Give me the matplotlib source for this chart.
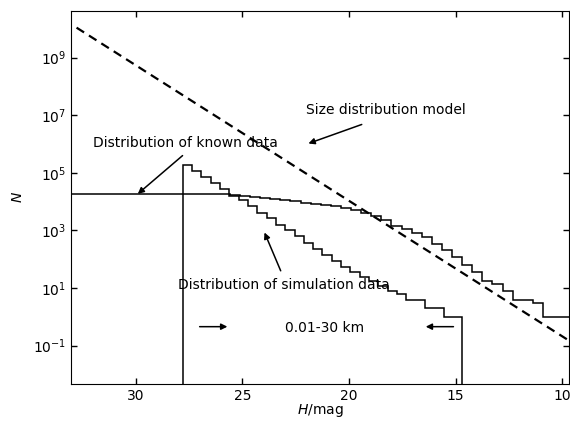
import numpy as np
import matplotlib
matplotlib.use("Agg")
import matplotlib.pyplot as plt

# ---- data ----
# known-data histogram (bins ordered from H high -> low, i.e. left to right)
known_H_left, known_H_right = 33.16, 9.484
known_counts = [18600]*15 + [18200, 17400, 16200, 15100, 13800, 12600, 11500, 10200, 9300, 8300,
                             7600, 6800, 6200, 5200, 4200, 3200, 2300, 1400, 1120, 830,
                             600, 350, 214, 117, 65, 35, 18, 14, 8, 4,
                             4, 3, 1, 1, 1]
# simulation histogram
sim_H_left, sim_H_right = 27.80, 14.68
sim_counts = [190000, 112000, 71000, 44000, 27500, 16200, 11000, 6800, 4200, 2700,
              1550, 1000, 650, 360, 225, 138, 87, 54, 37, 25,
              18, 12, 8, 6, 4, 4, 2, 2, 1, 1]
# size distribution model (power law line)
model_H = [32.77, 9.5]
model_N = [1.1e10, 0.123]

x_ticks = [30, 25, 20, 15, 10]
y_ticks = [1e-1, 1e1, 1e3, 1e5, 1e7, 1e9]

# ---- figure ----
fig = plt.figure(figsize=(5.70, 4.21), dpi=100)
ax = fig.add_axes([0.1246, 0.0879, 0.8745, 0.886])

known_edges = np.linspace(known_H_left, known_H_right, len(known_counts) + 1)
sim_edges = np.linspace(sim_H_left, sim_H_right, len(sim_counts) + 1)

ax.stairs(known_counts[::-1], known_edges[::-1], baseline=None, color='k', lw=1.1)
ax.stairs(sim_counts[::-1], sim_edges[::-1], baseline=1e-8, color='k', lw=1.1)
ax.plot(model_H, model_N, 'k--', lw=1.6, dashes=(4, 2.6))

ax.set_yscale('log')
ax.set_xlim(33.03, 9.66)
ax.set_ylim(10**-2.33, 10**10.62)
ax.set_xticks(x_ticks)
ax.set_xticklabels([str(t) for t in x_ticks])
ax.set_yticks(y_ticks)
ax.yaxis.set_minor_locator(matplotlib.ticker.NullLocator())
ax.xaxis.set_minor_locator(matplotlib.ticker.NullLocator())
ax.tick_params(direction='in', top=True, right=True, length=4, width=1, labelsize=10)

ax.set_xlabel('$H$/mag', fontsize=10, labelpad=-0.5)
ax.set_ylabel('$N$', fontsize=10, labelpad=6)

ap = dict(arrowstyle='-|>', color='k', lw=1.1, mutation_scale=9, shrinkA=0, shrinkB=0)

ax.text(22.0, 10**7.19, 'Size distribution model', fontsize=10, va='center', ha='left')
ax.annotate('', xy=(21.9, 10**6.02), xytext=(19.4, 10**6.68), arrowprops=ap)

ax.text(32.01, 10**6.05, 'Distribution of known data', fontsize=10, va='center', ha='left')
ax.annotate('', xy=(29.9, 10**4.27), xytext=(27.8, 10**5.6), arrowprops=ap)

ax.text(28.0, 10**1.10, 'Distribution of simulation data', fontsize=10, va='center', ha='left')
ax.annotate('', xy=(23.96, 10**2.93), xytext=(23.2, 10**1.6), arrowprops=ap)

ax.text(21.14, 10**-0.37, '0.01-30 km', fontsize=10, va='center', ha='center')
ax.annotate('', xy=(25.7, 10**-0.34), xytext=(27.0, 10**-0.34), arrowprops=ap)
ax.annotate('', xy=(16.4, 10**-0.34), xytext=(15.1, 10**-0.34), arrowprops=ap)

fig.savefig('out.png', dpi=100)
